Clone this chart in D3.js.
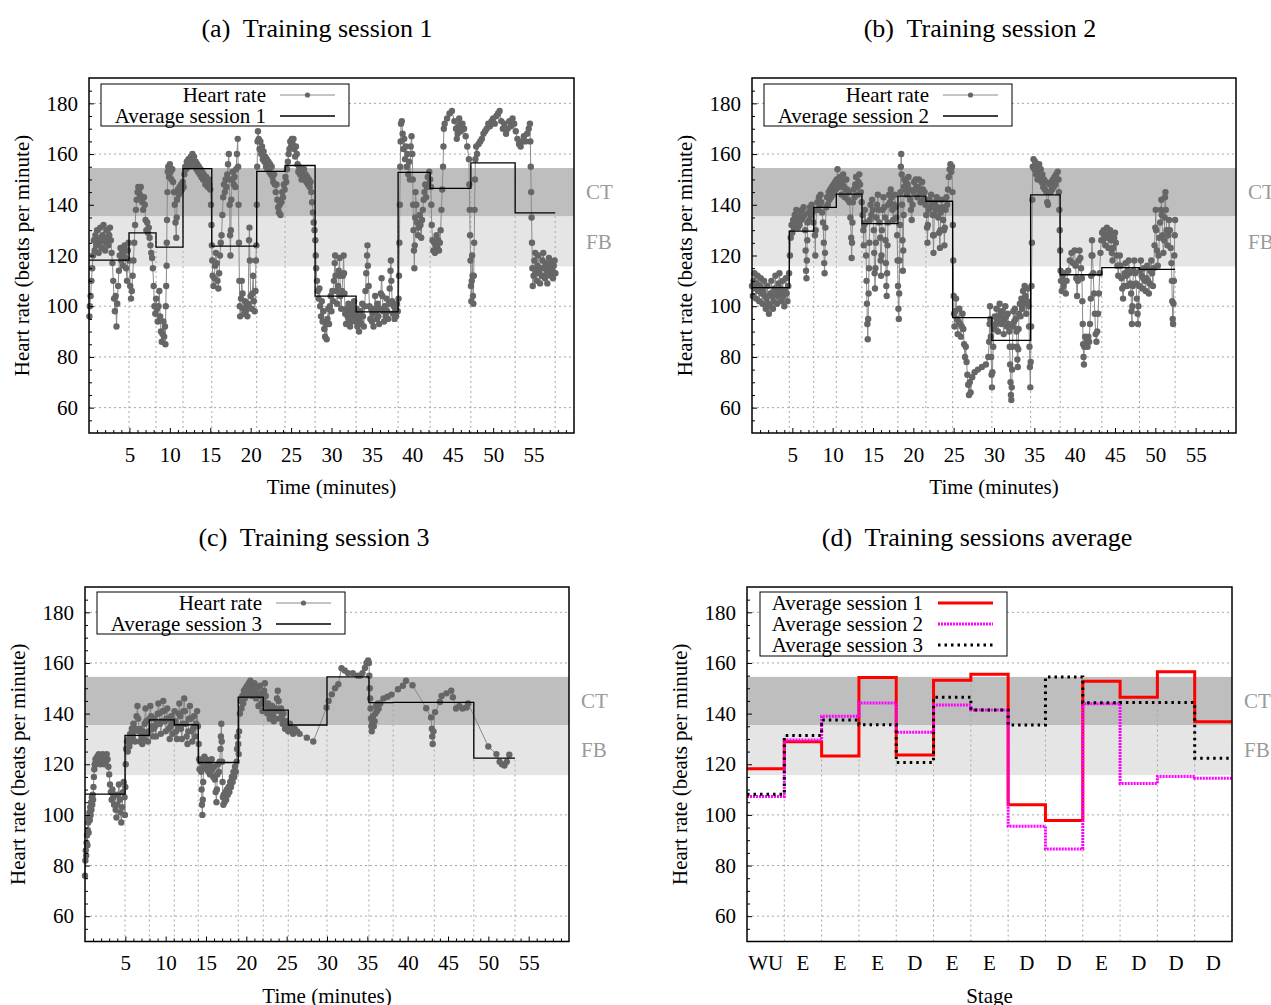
<!DOCTYPE html>
<html><head><meta charset="utf-8">
<script src="https://cdn.jsdelivr.net/npm/d3@7"></script>
<style>
html,body{margin:0;padding:0;background:#fff;}
svg{display:block;font-family:"Liberation Serif","Times New Roman",serif;}
text{white-space:pre;}
</style></head><body>
<svg id="chart" width="1271" height="1005"></svg>
<script>
// ---------------- DATA ----------------
const stageLabels = ["WU","E","E","E","D","E","E","D","D","E","D","D","D"];
const avg1 = [118.2,128.9,123.3,154.3,123.7,153.2,155.5,104.0,97.8,152.8,146.5,156.5,136.8];
const avg2 = [107.3,129.6,139.0,144.2,132.6,143.4,141.4,95.5,86.5,143.9,112.4,115.2,114.5];
const avg3 = [108.2,131.4,137.5,135.6,120.7,146.5,141.4,135.5,154.5,144.3,144.4,144.4,122.4];
const bounds1 = [0,4.95,8.29,11.63,15.19,20.75,24.26,27.97,33.04,38.24,42.2,47.24,52.72,57.67];
const bounds2 = [0,4.62,7.65,10.45,13.63,18.09,21.56,24.87,29.74,34.54,38.2,43.37,48.04,52.45];
const bounds3 = [0,4.96,7.97,11.07,14.04,19.0,22.1,25.2,30.0,35.2,38.2,43.3,48.2,53.3];
const xTicks = [5,10,15,20,25,30,35,40,45,50,55];
const yTicks = [60,80,100,120,140,160,180];
const zoneCT = [135.5,154.5];
const zoneFB = [115.7,135.5];

const hr1 = [[0.05,96],[0.1,100],[0.2,104],[0.3,110],[0.4,115],[0.5,120],[0.6,126],[0.7,122],[0.8,128],[0.9,124],[1.0,130],[1.1,126],[1.2,121],[1.3,125],[1.4,131],[1.5,127],[1.6,123],[1.7,128],[1.8,132],[1.9,126],[2.0,122],[2.1,125],[2.2,130],[2.3,127],[2.4,124],[2.5,128],[2.6,131],[2.7,126],[2.8,121],[2.9,117],[3.0,110],[3.1,103],[3.2,98],[3.3,104],[3.4,92],[3.5,101],[3.6,108],[3.7,114],[3.8,120],[3.9,123],[4.0,118],[4.1,122],[4.2,116],[4.3,121],[4.4,124],[4.5,119],[4.6,115],[4.7,110],[4.8,122],[4.9,125],[5.0,118],[5.1,108],[5.2,103],[5.3,106],[5.4,112],[5.5,118],[5.6,125],[5.7,132],[5.8,138],[5.9,142],[6.0,145],[6.1,147],[6.2,146],[6.3,144],[6.4,147],[6.5,143],[6.6,141],[6.7,138],[6.8,143],[6.9,140],[7.0,134],[7.1,130],[7.2,133],[7.3,129],[7.4,131],[7.5,127],[7.6,124],[7.7,121],[7.8,119],[7.9,115],[8.0,108],[8.1,100],[8.2,97],[8.3,103],[8.4,99],[8.5,94],[8.6,100],[8.7,106],[8.8,96],[8.9,90],[9.0,86],[9.1,89],[9.2,94],[9.3,88],[9.4,92],[9.45,85],[9.5,100],[9.55,108],[9.6,116],[9.62,125],[9.65,134],[9.7,145],[9.75,153],[9.8,155],[9.9,151],[10.0,156],[10.1,153],[10.2,150],[10.3,154],[10.4,149],[10.5,145],[10.6,140],[10.7,133],[10.8,127],[10.85,135],[10.9,142],[11.0,146],[11.1,144],[11.2,147],[11.3,145],[11.4,148],[11.5,146],[11.6,149],[11.7,147],[11.8,152],[11.9,155],[12.0,154],[12.1,157],[12.2,156],[12.3,158],[12.4,155],[12.5,157],[12.6,159],[12.7,158],[12.8,160],[12.9,157],[13.0,159],[13.1,155],[13.2,157],[13.3,154],[13.4,156],[13.5,153],[13.6,155],[13.7,152],[13.8,154],[13.9,151],[14.0,153],[14.1,150],[14.2,152],[14.3,150],[14.4,148],[14.5,151],[14.6,149],[14.7,147],[14.8,150],[14.9,148],[15.0,146],[15.1,140],[15.15,132],[15.2,124],[15.25,118],[15.3,112],[15.4,108],[15.5,111],[15.6,116],[15.7,121],[15.8,117],[15.9,110],[16.0,107],[16.1,113],[16.2,120],[16.3,125],[16.4,128],[16.5,136],[16.6,143],[16.7,148],[16.8,145],[16.9,150],[17.0,147],[17.1,152],[17.2,156],[17.3,160],[17.35,150],[17.4,140],[17.45,128],[17.5,120],[17.55,130],[17.6,142],[17.7,150],[17.8,153],[17.9,148],[18.0,151],[18.1,147],[18.2,154],[18.3,160],[18.4,166],[18.45,155],[18.5,140],[18.55,125],[18.6,110],[18.65,100],[18.7,96],[18.8,103],[18.9,110],[19.0,105],[19.1,99],[19.2,97],[19.3,102],[19.4,98],[19.5,100],[19.6,96],[19.7,101],[19.8,126],[19.85,131],[19.9,118],[20.0,104],[20.1,99],[20.2,105],[20.3,112],[20.4,102],[20.5,98],[20.6,106],[20.65,118],[20.7,124],[20.75,140],[20.8,155],[20.85,165],[20.9,169],[21.0,166],[21.1,162],[21.2,165],[21.3,160],[21.4,163],[21.5,158],[21.6,161],[21.7,157],[21.8,159],[21.9,155],[22.0,158],[22.1,154],[22.2,157],[22.3,153],[22.4,156],[22.5,152],[22.6,155],[22.7,151],[22.8,149],[22.9,152],[23.0,148],[23.1,145],[23.2,148],[23.3,142],[23.4,139],[23.5,137],[23.6,140],[23.7,136],[23.8,141],[23.9,145],[24.0,143],[24.1,148],[24.2,146],[24.3,151],[24.4,149],[24.5,154],[24.6,157],[24.7,160],[24.8,162],[24.9,165],[25.0,163],[25.1,166],[25.2,164],[25.3,166],[25.4,162],[25.5,159],[25.6,163],[25.7,160],[25.8,156],[25.9,153],[26.0,155],[26.1,152],[26.2,154],[26.3,150],[26.4,153],[26.5,151],[26.6,154],[26.7,150],[26.8,152],[26.9,149],[27.0,151],[27.1,148],[27.2,150],[27.3,147],[27.4,149],[27.5,145],[27.6,141],[27.7,137],[27.8,133],[27.9,130],[28.0,126],[28.05,120],[28.1,115],[28.2,110],[28.3,106],[28.4,103],[28.5,107],[28.6,100],[28.7,96],[28.8,102],[28.9,94],[29.0,98],[29.1,91],[29.2,88],[29.3,93],[29.4,87],[29.5,95],[29.6,99],[29.7,93],[29.8,100],[29.9,104],[30.0,98],[30.1,106],[30.2,102],[30.3,110],[30.4,117],[30.45,120],[30.5,112],[30.6,106],[30.7,101],[30.8,108],[30.9,114],[31.0,119],[31.05,112],[31.1,104],[31.2,99],[31.3,106],[31.4,112],[31.5,120],[31.55,113],[31.6,105],[31.7,97],[31.8,93],[31.9,99],[32.0,96],[32.1,101],[32.2,95],[32.3,92],[32.4,98],[32.5,94],[32.6,100],[32.7,96],[32.8,102],[32.9,97],[33.0,94],[33.1,99],[33.2,92],[33.3,96],[33.4,90],[33.5,94],[33.6,98],[33.7,93],[33.8,101],[33.9,96],[34.0,92],[34.1,100],[34.2,106],[34.3,113],[34.4,120],[34.45,124],[34.5,116],[34.6,108],[34.7,100],[34.8,95],[34.9,99],[35.0,94],[35.1,97],[35.2,92],[35.3,99],[35.4,104],[35.5,98],[35.6,95],[35.7,101],[35.8,96],[35.9,93],[36.0,99],[36.1,105],[36.2,111],[36.3,104],[36.4,98],[36.5,94],[36.6,100],[36.7,96],[36.8,103],[36.9,98],[37.0,95],[37.1,101],[37.2,107],[37.3,114],[37.35,118],[37.4,110],[37.5,102],[37.6,97],[37.7,100],[37.8,95],[37.9,99],[38.0,96],[38.1,101],[38.2,98],[38.3,103],[38.35,112],[38.4,125],[38.45,140],[38.5,155],[38.55,165],[38.6,172],[38.7,173],[38.8,168],[38.9,162],[39.0,166],[39.1,158],[39.2,163],[39.3,155],[39.4,160],[39.5,152],[39.6,157],[39.7,150],[39.8,163],[39.9,167],[40.0,160],[40.05,150],[40.1,140],[40.15,130],[40.2,122],[40.25,115],[40.3,124],[40.35,135],[40.4,145],[40.5,140],[40.6,133],[40.7,128],[40.8,131],[40.9,136],[41.0,132],[41.1,127],[41.2,134],[41.3,138],[41.4,142],[41.5,145],[41.6,148],[41.7,143],[41.8,147],[41.9,151],[42.0,148],[42.1,153],[42.2,150],[42.3,147],[42.35,140],[42.4,132],[42.5,126],[42.6,122],[42.7,125],[42.8,121],[42.9,124],[43.0,128],[43.1,123],[43.2,126],[43.3,122],[43.4,125],[43.5,130],[43.6,138],[43.7,146],[43.8,155],[43.85,163],[43.9,170],[44.0,172],[44.3,174],[44.6,176],[44.9,177],[45.2,173],[45.4,170],[45.5,166],[45.6,168],[45.7,171],[45.8,174],[45.9,172],[46.0,169],[46.2,172],[46.4,170],[46.6,167],[46.8,163],[47.0,158],[47.05,148],[47.1,138],[47.15,128],[47.2,118],[47.25,108],[47.3,102],[47.35,110],[47.4,120],[47.45,112],[47.5,104],[47.55,101],[47.6,112],[47.65,125],[47.7,138],[47.75,150],[47.8,158],[47.9,163],[48.0,160],[48.2,164],[48.4,165],[48.6,166],[48.8,168],[49.0,169],[49.2,170],[49.4,172],[49.6,171],[49.8,173],[50.0,174],[50.2,172],[50.4,175],[50.6,176],[50.8,177],[51.0,173],[51.2,170],[51.4,172],[51.6,168],[51.8,170],[52.0,173],[52.2,171],[52.4,174],[52.6,172],[52.8,169],[53.0,166],[53.2,164],[53.4,163],[53.6,165],[53.8,167],[54.0,165],[54.2,168],[54.4,170],[54.55,172],[54.6,165],[54.65,155],[54.7,145],[54.75,135],[54.8,125],[54.85,115],[54.9,108],[55.0,112],[55.1,118],[55.2,121],[55.3,114],[55.4,110],[55.5,116],[55.6,120],[55.7,113],[55.8,109],[55.9,115],[56.0,112],[56.1,118],[56.2,121],[56.3,115],[56.4,111],[56.5,117],[56.6,113],[56.7,109],[56.8,114],[56.9,119],[57.0,116],[57.1,112],[57.2,117],[57.3,114],[57.4,111],[57.5,116],[57.6,118],[57.7,113]];

const hr2 = [[0.0,108],[0.1,104],[0.2,110],[0.3,113],[0.4,107],[0.5,103],[0.6,109],[0.7,112],[0.8,106],[0.9,102],[1.0,108],[1.1,111],[1.2,105],[1.3,101],[1.4,106],[1.5,110],[1.6,104],[1.7,99],[1.8,103],[1.9,108],[2.0,101],[2.1,97],[2.2,100],[2.3,105],[2.4,110],[2.5,104],[2.6,99],[2.7,102],[2.8,107],[2.9,112],[3.0,106],[3.1,101],[3.2,104],[3.3,109],[3.4,113],[3.5,107],[3.6,102],[3.7,105],[3.8,110],[3.9,104],[4.0,100],[4.1,106],[4.2,111],[4.3,105],[4.4,102],[4.5,108],[4.6,113],[4.7,120],[4.8,127],[4.9,132],[5.0,129],[5.1,134],[5.2,131],[5.3,136],[5.4,133],[5.5,138],[5.6,134],[5.7,131],[5.8,135],[5.9,132],[6.0,137],[6.1,134],[6.2,138],[6.3,135],[6.4,139],[6.5,136],[6.6,130],[6.65,122],[6.7,114],[6.75,111],[6.8,118],[6.85,126],[6.9,133],[7.0,137],[7.1,134],[7.2,139],[7.3,136],[7.4,140],[7.5,137],[7.6,133],[7.7,138],[7.8,128],[7.85,120],[7.9,130],[8.0,138],[8.1,141],[8.2,138],[8.3,143],[8.4,140],[8.5,144],[8.6,141],[8.7,137],[8.8,133],[8.9,125],[8.95,117],[9.0,113],[9.05,121],[9.1,131],[9.2,139],[9.3,143],[9.4,140],[9.5,145],[9.6,142],[9.7,146],[9.8,143],[9.9,147],[10.0,144],[10.1,148],[10.2,145],[10.3,149],[10.4,146],[10.5,150],[10.6,154],[10.7,150],[10.8,147],[10.9,151],[11.0,148],[11.1,144],[11.2,149],[11.3,152],[11.4,147],[11.5,143],[11.6,146],[11.7,150],[11.8,146],[11.9,142],[12.0,145],[12.1,141],[12.2,135],[12.3,127],[12.35,119],[12.4,125],[12.45,133],[12.5,141],[12.6,146],[12.7,143],[12.8,148],[12.9,151],[13.0,147],[13.1,144],[13.2,149],[13.3,152],[13.4,148],[13.5,145],[13.6,141],[13.7,136],[13.8,130],[13.85,124],[13.9,132],[14.0,138],[14.1,133],[14.15,120],[14.2,110],[14.25,101],[14.3,93],[14.35,87],[14.4,95],[14.45,105],[14.5,115],[14.55,125],[14.6,134],[14.7,140],[14.8,136],[14.9,142],[15.0,138],[15.1,130],[15.15,121],[15.2,113],[15.25,107],[15.3,115],[15.35,125],[15.4,135],[15.5,140],[15.6,144],[15.7,138],[15.8,133],[15.9,127],[15.95,118],[16.0,112],[16.05,120],[16.1,130],[16.2,138],[16.3,143],[16.4,139],[16.5,135],[16.55,126],[16.6,117],[16.65,108],[16.7,104],[16.75,113],[16.8,124],[16.85,133],[16.9,140],[17.0,144],[17.1,141],[17.2,146],[17.3,143],[17.4,138],[17.5,134],[17.6,140],[17.7,144],[17.8,139],[17.9,135],[18.0,128],[18.05,118],[18.1,108],[18.15,99],[18.2,95],[18.25,105],[18.3,118],[18.35,132],[18.4,145],[18.45,155],[18.5,160],[18.55,152],[18.6,140],[18.65,126],[18.7,114],[18.75,122],[18.8,136],[18.85,147],[18.9,150],[19.0,146],[19.1,149],[19.2,144],[19.3,148],[19.4,151],[19.5,146],[19.6,142],[19.7,138],[19.8,134],[19.9,140],[20.0,145],[20.1,149],[20.2,146],[20.3,150],[20.4,147],[20.5,143],[20.6,147],[20.7,150],[20.8,145],[20.9,141],[21.0,145],[21.1,149],[21.2,146],[21.3,142],[21.4,145],[21.5,140],[21.6,136],[21.7,131],[21.75,125],[21.8,132],[21.9,138],[22.0,142],[22.1,139],[22.2,144],[22.3,140],[22.4,136],[22.45,128],[22.5,121],[22.55,128],[22.6,136],[22.7,141],[22.8,138],[22.9,143],[23.0,139],[23.1,135],[23.2,129],[23.3,123],[23.35,130],[23.4,137],[23.5,142],[23.6,139],[23.7,134],[23.8,130],[23.85,124],[23.9,131],[24.0,138],[24.1,143],[24.2,140],[24.3,146],[24.4,151],[24.5,154],[24.6,156],[24.7,153],[24.8,155],[24.85,145],[24.9,132],[24.95,118],[25.0,104],[25.05,97],[25.1,92],[25.2,98],[25.3,103],[25.4,95],[25.5,89],[25.6,94],[25.7,99],[25.8,93],[25.9,88],[26.0,92],[26.1,97],[26.2,91],[26.3,85],[26.4,80],[26.5,84],[26.6,78],[26.7,73],[26.8,69],[26.9,65],[27.0,70],[27.1,66],[27.3,72],[27.6,74],[28.0,75],[28.5,76],[29.0,77],[29.3,80],[29.4,86],[29.45,93],[29.5,100],[29.55,95],[29.6,88],[29.65,80],[29.7,73],[29.75,68],[29.8,74],[29.9,84],[30.0,91],[30.1,96],[30.2,93],[30.3,99],[30.4,94],[30.5,90],[30.6,96],[30.7,101],[30.8,97],[30.9,93],[31.0,98],[31.1,94],[31.2,89],[31.3,95],[31.4,100],[31.5,96],[31.6,92],[31.7,97],[31.8,93],[31.9,90],[31.95,84],[32.0,77],[32.05,70],[32.1,65],[32.15,63],[32.2,68],[32.25,75],[32.3,84],[32.35,92],[32.4,98],[32.5,94],[32.6,99],[32.7,95],[32.8,90],[32.85,84],[32.9,79],[32.95,76],[33.0,83],[33.05,91],[33.1,97],[33.2,101],[33.3,96],[33.4,103],[33.5,99],[33.6,106],[33.7,101],[33.8,108],[33.9,104],[34.0,97],[34.1,102],[34.2,107],[34.3,100],[34.35,92],[34.4,84],[34.45,76],[34.5,68],[34.55,78],[34.6,92],[34.65,108],[34.7,125],[34.75,142],[34.8,155],[34.9,158],[35.0,154],[35.1,157],[35.2,152],[35.3,155],[35.4,150],[35.5,153],[35.6,156],[35.7,151],[35.8,154],[35.9,149],[36.0,152],[36.1,147],[36.2,150],[36.3,146],[36.4,149],[36.5,145],[36.6,141],[36.7,140],[36.8,145],[36.9,148],[37.0,145],[37.1,149],[37.2,146],[37.3,150],[37.4,147],[37.5,151],[37.6,148],[37.7,152],[37.8,150],[37.9,153],[38.0,150],[38.05,145],[38.1,138],[38.15,130],[38.2,122],[38.25,114],[38.3,110],[38.4,106],[38.5,112],[38.6,108],[38.7,113],[38.8,110],[38.9,105],[39.0,110],[39.2,114],[39.4,118],[39.6,121],[39.8,117],[40.0,122],[40.1,116],[40.2,111],[40.3,104],[40.4,110],[40.5,118],[40.6,122],[40.7,119],[40.8,115],[40.9,111],[40.95,102],[41.0,93],[41.05,85],[41.1,80],[41.15,77],[41.2,84],[41.3,88],[41.4,85],[41.5,87],[41.6,84],[41.7,88],[41.8,86],[41.9,93],[42.0,103],[42.05,112],[42.1,120],[42.15,126],[42.2,120],[42.3,113],[42.4,105],[42.5,97],[42.6,89],[42.7,86],[42.8,90],[42.9,97],[43.0,105],[43.1,113],[43.2,121],[43.3,126],[43.4,129],[43.5,126],[43.6,130],[43.7,127],[43.8,124],[43.9,128],[44.0,131],[44.1,127],[44.2,123],[44.3,128],[44.4,130],[44.5,126],[44.6,121],[44.7,118],[44.8,123],[44.9,127],[45.0,129],[45.1,125],[45.2,120],[45.3,116],[45.4,112],[45.5,116],[45.6,120],[45.7,116],[45.8,111],[45.9,107],[46.0,103],[46.1,108],[46.2,113],[46.3,117],[46.4,112],[46.5,108],[46.6,114],[46.7,118],[46.8,113],[46.9,109],[47.0,105],[47.05,98],[47.1,93],[47.15,100],[47.2,108],[47.3,114],[47.4,118],[47.5,113],[47.6,109],[47.7,103],[47.8,97],[47.85,93],[47.9,100],[48.0,108],[48.1,114],[48.2,118],[48.3,112],[48.4,107],[48.5,111],[48.6,115],[48.7,110],[48.8,106],[48.9,111],[49.0,116],[49.1,110],[49.2,105],[49.3,109],[49.4,114],[49.5,118],[49.6,113],[49.7,108],[49.8,115],[49.9,124],[50.0,131],[50.05,138],[50.1,130],[50.2,122],[50.3,116],[50.4,120],[50.5,127],[50.6,133],[50.7,138],[50.75,142],[50.8,136],[50.9,128],[51.0,121],[51.1,126],[51.15,135],[51.2,143],[51.25,145],[51.3,138],[51.4,130],[51.5,124],[51.6,128],[51.7,134],[51.8,130],[51.9,123],[52.0,117],[52.05,110],[52.1,102],[52.15,95],[52.2,93],[52.25,101],[52.3,110],[52.35,120],[52.4,128],[52.45,134]];

const hr3 = [[0.0,76],[0.05,82],[0.1,86],[0.15,84],[0.2,89],[0.25,92],[0.3,88],[0.35,94],[0.4,97],[0.45,93],[0.5,99],[0.55,101],[0.6,98],[0.65,103],[0.7,100],[0.75,105],[0.8,102],[0.85,107],[0.9,104],[0.95,108],[1.0,106],[1.05,111],[1.1,115],[1.15,118],[1.2,120],[1.3,122],[1.4,120],[1.5,123],[1.6,121],[1.7,124],[1.8,122],[1.9,120],[2.0,123],[2.1,121],[2.2,124],[2.3,122],[2.4,120],[2.5,123],[2.6,121],[2.7,124],[2.8,122],[2.9,119],[3.0,116],[3.1,112],[3.2,109],[3.3,106],[3.4,110],[3.5,107],[3.6,104],[3.7,108],[3.8,102],[3.9,99],[4.0,104],[4.1,108],[4.2,112],[4.3,106],[4.4,101],[4.5,97],[4.6,103],[4.7,109],[4.8,113],[4.9,107],[4.95,100],[5.0,111],[5.05,120],[5.1,126],[5.2,129],[5.3,125],[5.4,130],[5.5,127],[5.6,132],[5.7,129],[5.8,134],[5.9,131],[6.0,136],[6.1,133],[6.2,129],[6.3,134],[6.4,139],[6.5,143],[6.6,138],[6.7,133],[6.8,129],[6.9,134],[7.0,131],[7.1,128],[7.2,133],[7.3,130],[7.4,136],[7.5,142],[7.6,137],[7.7,132],[7.8,129],[7.9,133],[8.0,138],[8.1,143],[8.2,139],[8.3,135],[8.4,131],[8.5,134],[8.6,138],[8.7,135],[8.8,131],[8.9,136],[9.0,140],[9.1,144],[9.2,140],[9.3,136],[9.4,132],[9.5,137],[9.6,141],[9.7,145],[9.8,141],[9.9,137],[10.0,133],[10.1,138],[10.2,142],[10.3,138],[10.4,134],[10.5,130],[10.6,135],[10.7,139],[10.8,136],[10.9,132],[11.0,137],[11.1,141],[11.2,137],[11.3,133],[11.4,130],[11.5,135],[11.6,140],[11.7,144],[11.8,139],[11.9,134],[12.0,130],[12.1,136],[12.2,141],[12.3,146],[12.4,141],[12.5,136],[12.6,131],[12.7,128],[12.8,133],[12.9,138],[13.0,143],[13.1,138],[13.2,133],[13.3,129],[13.4,134],[13.5,139],[13.6,135],[13.7,131],[13.8,136],[13.9,141],[14.0,135],[14.1,128],[14.15,122],[14.2,118],[14.3,121],[14.4,117],[14.45,110],[14.5,104],[14.55,100],[14.6,106],[14.65,113],[14.7,119],[14.8,123],[14.9,119],[15.0,122],[15.1,118],[15.2,121],[15.3,117],[15.4,120],[15.5,116],[15.6,119],[15.7,122],[15.8,118],[15.9,115],[16.0,119],[16.1,114],[16.2,109],[16.3,105],[16.35,110],[16.4,116],[16.5,120],[16.6,117],[16.7,121],[16.8,126],[16.85,131],[16.9,136],[16.95,129],[17.0,121],[17.05,113],[17.1,107],[17.15,104],[17.2,108],[17.3,105],[17.4,109],[17.5,106],[17.6,110],[17.7,108],[17.8,111],[17.9,109],[18.0,113],[18.1,111],[18.2,115],[18.3,113],[18.4,117],[18.5,115],[18.6,119],[18.7,117],[18.8,121],[18.85,126],[18.9,131],[19.0,128],[19.05,124],[19.1,133],[19.2,140],[19.3,145],[19.4,142],[19.5,147],[19.6,144],[19.7,149],[19.8,146],[19.9,150],[20.0,147],[20.1,151],[20.2,148],[20.3,152],[20.4,149],[20.5,153],[20.6,150],[20.7,147],[20.8,151],[20.9,148],[21.0,152],[21.1,149],[21.2,146],[21.3,150],[21.4,147],[21.5,143],[21.6,147],[21.7,151],[21.8,148],[21.9,144],[22.0,141],[22.1,145],[22.2,149],[22.3,152],[22.4,147],[22.5,143],[22.6,140],[22.7,144],[22.8,141],[22.9,138],[23.0,142],[23.1,139],[23.2,143],[23.3,140],[23.4,137],[23.5,141],[23.6,138],[23.7,142],[23.8,146],[23.9,149],[24.0,145],[24.1,141],[24.2,138],[24.3,142],[24.4,139],[24.5,136],[24.6,140],[24.7,137],[24.8,134],[24.9,137],[25.0,135],[25.2,133],[25.4,136],[25.6,134],[25.8,132],[26.0,134],[26.3,133],[26.6,132],[27.5,130.5],[28.3,129],[29.95,142.4],[30.2,145],[30.6,147.6],[31.0,150],[31.4,151.6],[31.8,157.9],[32.2,157],[32.6,156],[33.2,156],[33.8,155],[34.1,155],[34.4,156],[34.7,158],[34.9,160],[35.1,161],[35.2,160],[35.25,155],[35.3,150],[35.35,146],[35.4,142],[35.45,138],[35.5,135],[35.55,133],[35.6,136],[35.7,139],[35.8,135],[35.9,137],[36.0,140],[36.1,143],[36.2,141],[36.3,144],[36.4,142],[36.6,144],[37.0,146],[37.5,146.7],[38.0,147.5],[38.8,149.6],[39.4,151],[39.8,153],[40.6,151.2],[42.3,142.1],[42.9,138.5],[43.0,134],[43.05,131],[43.1,128],[43.2,133],[43.4,140.6],[44.0,144.6],[44.2,147],[44.8,148],[45.4,149],[45.6,146.5],[46.0,142],[46.4,143],[46.8,142],[47.3,142.4],[47.5,144],[50.0,127],[51.0,124],[51.4,121],[51.7,120],[52.0,119.5],[52.3,121],[52.6,123.8]];

// ---------------- DRAWING ----------------
const svg = d3.select("#chart");
svg.append("rect").attr("width",1271).attr("height",1005).attr("fill","#fff");
const FONT = 21;
const FAM = '"Liberation Serif","Times New Roman",serif';
const GRID = "#a6a6a6";
const yMinor = d3.range(55,190,5).filter(v => v % 20 !== 0);
const xMinor = d3.range(1,60,1).filter(v => v % 5 !== 0);

function styleAxis(ax){
  ax.select(".domain").remove();
  ax.attr("font-size",null).attr("font-family",null);
  ax.selectAll("text").attr("font-size",FONT).attr("font-family",FAM).attr("fill","#000");
  ax.selectAll("line").attr("stroke","#000").attr("stroke-width",1);
}

function base(box){
  const g = svg.append("g").attr("transform",`translate(${box.x},${box.y})`);
  const y = d3.scaleLinear().domain([50,190]).range([box.h,0]);
  g.selectAll(".hg").data(yTicks).join("line").attr("class","hg")
    .attr("x1",0).attr("x2",box.w).attr("y1",d=>y(d)).attr("y2",d=>y(d))
    .attr("stroke",GRID).attr("stroke-width",1).attr("stroke-dasharray","2,3");
  g.append("rect").attr("x",0).attr("width",box.w)
    .attr("y",y(zoneFB[1])).attr("height",y(zoneFB[0])-y(zoneFB[1])).attr("fill","#e5e5e5");
  g.append("rect").attr("x",0).attr("width",box.w)
    .attr("y",y(zoneCT[1])).attr("height",y(zoneCT[0])-y(zoneCT[1])).attr("fill","#bebebe");
  g.append("text").attr("x",box.w+12).attr("y",y((zoneCT[0]+zoneCT[1])/2)).attr("dy","0.35em")
    .attr("fill","#9a9a9a").attr("font-size",FONT).attr("font-family",FAM).text("CT");
  g.append("text").attr("x",box.w+12).attr("y",y((zoneFB[0]+zoneFB[1])/2)).attr("dy","0.35em")
    .attr("fill","#9a9a9a").attr("font-size",FONT).attr("font-family",FAM).text("FB");
  return {g,y};
}

function yAxis(g,y,box){
  const a1 = g.append("g").call(d3.axisLeft(y).tickValues(yTicks).tickSize(-5).tickPadding(11));
  styleAxis(a1);
  const a2 = g.append("g").call(d3.axisLeft(y).tickValues(yMinor).tickSize(-3).tickFormat(""));
  styleAxis(a2);
  g.append("text").attr("transform",`translate(${-67},${box.h/2}) rotate(-90)`)
    .attr("text-anchor","middle").attr("dy","0.35em").attr("font-size",FONT).attr("font-family",FAM)
    .text("Heart rate (beats per minute)");
}

function frame(g,box){
  g.append("rect").attr("x",0).attr("y",0).attr("width",box.w).attr("height",box.h)
    .attr("fill","none").attr("stroke","#000").attr("stroke-width",1.5);
}

function title(txt,cx,cy){
  svg.append("text").attr("x",cx).attr("y",cy).attr("dy","0.35em").attr("text-anchor","middle")
    .attr("font-size",26).attr("font-family",FAM).text(txt);
}

function stepPath(xs, vals, y){
  let p = `M${xs[0]},${y(vals[0])}`;
  for(let i=0;i<vals.length;i++){
    p += `H${xs[i+1]}`;
    if(i+1<vals.length) p += `V${y(vals[i+1])}`;
  }
  return p;
}

function timePanel(box, hr, bounds, avg, avgLabel, legendDy){
  const {g,y} = base(box);
  const x = d3.scaleLinear().domain([0,60]).range([0,box.w]);
  // stage boundary grid lines
  const vg = bounds.slice(1).map((b,i)=>({b, top: Math.max(avg[i], i+1<avg.length?avg[i+1]:-Infinity)}));
  g.selectAll(".vg").data(vg).join("line").attr("class","vg")
    .attr("x1",d=>x(d.b)).attr("x2",d=>x(d.b)).attr("y1",box.h).attr("y2",d=>y(d.top))
    .attr("stroke",GRID).attr("stroke-width",1).attr("stroke-dasharray","2,3");
  // heart rate
  const line = d3.line().x(d=>x(d[0])).y(d=>y(d[1]));
  g.append("path").datum(hr).attr("d",line).attr("fill","none").attr("stroke","#8a8a8a").attr("stroke-width",1);
  g.selectAll(".pt").data(hr).join("circle").attr("class","pt")
    .attr("cx",d=>x(d[0])).attr("cy",d=>y(d[1])).attr("r",3.2).attr("fill","#666");
  // average step
  g.append("path").attr("d",stepPath(bounds.map(x),avg,y)).attr("fill","none").attr("stroke","#000").attr("stroke-width",1.3);
  // axes
  yAxis(g,y,box);
  const xa = g.append("g").attr("transform",`translate(0,${box.h})`)
    .call(d3.axisBottom(x).tickValues(xTicks).tickSize(-5).tickPadding(14));
  styleAxis(xa);
  const xm = g.append("g").attr("transform",`translate(0,${box.h})`)
    .call(d3.axisBottom(x).tickValues(xMinor).tickSize(-3).tickFormat(""));
  styleAxis(xm);
  g.append("text").attr("x",box.w/2).attr("y",box.h+54).attr("dy","0.35em").attr("text-anchor","middle")
    .attr("font-size",FONT).attr("font-family",FAM).text("Time (minutes)");
  // legend
  const lg = g.append("g");
  lg.append("rect").attr("x",12).attr("y",legendDy).attr("width",248).attr("height",42)
    .attr("fill","#fff").attr("stroke","#000").attr("stroke-width",1);
  const r1 = legendDy+11, r2 = legendDy+32;
  lg.append("text").attr("x",177).attr("y",r1).attr("dy","0.35em").attr("text-anchor","end")
    .attr("font-size",FONT).attr("font-family",FAM).text("Heart rate");
  lg.append("line").attr("x1",191).attr("x2",246).attr("y1",r1).attr("y2",r1).attr("stroke","#8a8a8a").attr("stroke-width",1);
  lg.append("circle").attr("cx",218.5).attr("cy",r1).attr("r",2.6).attr("fill","#666");
  lg.append("text").attr("x",177).attr("y",r2).attr("dy","0.35em").attr("text-anchor","end")
    .attr("font-size",FONT).attr("font-family",FAM).text(avgLabel);
  lg.append("line").attr("x1",191).attr("x2",246).attr("y1",r2).attr("y2",r2).attr("stroke","#000").attr("stroke-width",1.3);
  frame(g,box);
}

const boxA = {x:89,y:78,w:485,h:355};
const boxB = {x:752,y:78,w:484,h:355};
const boxC = {x:85,y:587,w:484,h:354.5};
const boxD = {x:747,y:587,w:485,h:354.5};

title("(a)  Training session 1",317,28);
title("(b)  Training session 2",980,28);
title("(c)  Training session 3",314,537);
title("(d)  Training sessions average",977,537);

timePanel(boxA,hr1,bounds1,avg1,"Average session 1",6);
timePanel(boxB,hr2,bounds2,avg2,"Average session 2",6);
timePanel(boxC,hr3,bounds3,avg3,"Average session 3",5);

// panel d
(function(){
  const box = boxD;
  const {g,y} = base(box);
  const idx = d3.range(stageLabels.length);
  const xb = d3.scaleBand().domain(idx).range([0,box.w]).padding(0);
  const edge = i => i*xb.step();
  const allAvg = [avg1,avg2,avg3];
  const vg = d3.range(1,stageLabels.length+1).map(i=>{
    let top = -Infinity;
    allAvg.forEach(a=>{ top=Math.max(top,a[i-1]); if(i<a.length) top=Math.max(top,a[i]); });
    return {i,top};
  });
  g.selectAll(".vg").data(vg).join("line").attr("class","vg")
    .attr("x1",d=>edge(d.i)).attr("x2",d=>edge(d.i)).attr("y1",box.h).attr("y2",d=>y(d.top))
    .attr("stroke",GRID).attr("stroke-width",1).attr("stroke-dasharray","2,3");
  const xs = d3.range(stageLabels.length+1).map(edge);
  const styles = [
    {data:avg1,color:"#ff0000",dash:null,label:"Average session 1"},
    {data:avg2,color:"#ff00ff",dash:"2,1",label:"Average session 2"},
    {data:avg3,color:"#000000",dash:"2.5,4",label:"Average session 3"}
  ];
  styles.forEach(s=>{
    g.append("path").attr("d",stepPath(xs,s.data,y)).attr("fill","none")
      .attr("stroke",s.color).attr("stroke-width",3).attr("stroke-dasharray",s.dash);
  });
  yAxis(g,y,box);
  const xa = g.append("g").attr("transform",`translate(0,${box.h})`)
    .call(d3.axisBottom(xb).tickSize(0).tickPadding(14).tickFormat(i=>stageLabels[i]));
  styleAxis(xa);
  g.append("text").attr("x",box.w/2).attr("y",box.h+54).attr("dy","0.35em").attr("text-anchor","middle")
    .attr("font-size",FONT).attr("font-family",FAM).text("Stage");
  const lg = g.append("g");
  lg.append("rect").attr("x",13).attr("y",5).attr("width",247).attr("height",64)
    .attr("fill","#fff").attr("stroke","#000").attr("stroke-width",1);
  styles.forEach((s,k)=>{
    const ry = 16 + k*21;
    lg.append("text").attr("x",176).attr("y",ry).attr("dy","0.35em").attr("text-anchor","end")
      .attr("font-size",FONT).attr("font-family",FAM).text(s.label);
    lg.append("line").attr("x1",191).attr("x2",246).attr("y1",ry).attr("y2",ry)
      .attr("stroke",s.color).attr("stroke-width",3).attr("stroke-dasharray",s.dash);
  });
  frame(g,box);
})();
</script></body></html>
